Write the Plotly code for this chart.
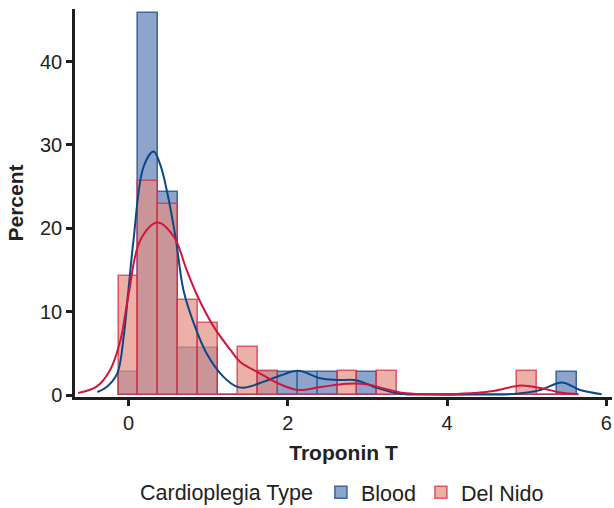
import plotly.graph_objects as go

# ---- data ----
bin_centers = [0.0, 0.25, 0.5, 0.75, 1.0, 1.25, 1.5, 1.75, 2.0, 2.25, 2.5, 2.75,
               3.0, 3.25, 3.5, 3.75, 4.0, 4.25, 4.5, 4.75, 5.0, 5.25, 5.5]
blood_pct = [2.8, 45.8, 24.3, 5.6, 5.6, 0, 0, 2.8, 2.8, 2.8, 2.8, 0,
             2.8, 0, 0, 0, 0, 0, 0, 0, 0, 0, 2.8]
delnido_pct = [14.3, 25.7, 22.9, 11.4, 8.6, 0, 5.7, 2.9, 0, 0, 0, 2.9,
               0, 2.9, 0, 0, 0, 0, 0, 0, 2.9, 0, 0]

blood_kde_x = [-0.39, -0.27, -0.14, -0.06, 0.0, 0.064, 0.19, 0.315, 0.40, 0.48,
               0.59, 0.69, 0.82, 0.98, 1.19, 1.36, 1.47, 1.70, 1.90, 2.13, 2.41,
               2.62, 2.87, 3.12, 3.41, 3.8, 4.3, 4.87, 5.17, 5.44, 5.67, 5.94]
blood_kde_y = [0.36, 1.0, 2.6, 7.0, 12.6, 18.6, 27.4, 29.2, 27.6, 24.6,
               19.0, 12.6, 8.6, 5.0, 2.2, 1.0, 0.9, 1.6, 2.3, 2.9, 2.0,
               1.8, 1.75, 0.85, 0.15, 0.05, 0.05, 0.15, 0.6, 1.5, 0.6, 0.1]

delnido_kde_x = [-0.63, -0.40, -0.23, -0.10, 0.0, 0.15, 0.365, 0.57, 0.73, 0.86,
                 1.07, 1.28, 1.40, 1.65, 1.90, 2.13, 2.41, 2.74, 2.99, 3.24,
                 3.49, 3.87, 4.3, 4.6, 4.92, 5.17, 5.42, 5.65]
delnido_kde_y = [0.24, 1.0, 3.0, 6.6, 12.0, 18.6, 20.7, 19.0, 15.0, 12.0,
                 8.2, 5.4, 4.0, 2.6, 1.3, 0.6, 0.95, 1.35, 1.3, 0.7,
                 0.2, 0.1, 0.2, 0.5, 1.15, 0.85, 0.3, 0.1]

x_ticks = [0, 2, 4, 6]
y_ticks = [0, 10, 20, 30, 40]

FONT = "Liberation Sans, Arial, sans-serif"
AX = "#1f1f1f"

fig = go.Figure()

fig.add_trace(go.Bar(
    x=bin_centers, y=blood_pct, width=0.25, name="Blood",
    marker=dict(color="#8fa4ca", line=dict(color="#3c69a3", width=1.6)),
))
fig.add_trace(go.Bar(
    x=bin_centers, y=delnido_pct, width=0.25, name="Del Nido",
    marker=dict(color="rgba(226,142,131,0.7)",
                line=dict(color="rgba(214,40,58,0.7)", width=1.6)),
))
fig.add_trace(go.Scatter(
    x=blood_kde_x, y=blood_kde_y, mode="lines", showlegend=False,
    line=dict(color="#0b4887", width=2, shape="spline", smoothing=1),
))
fig.add_trace(go.Scatter(
    x=delnido_kde_x, y=delnido_kde_y, mode="lines", showlegend=False,
    line=dict(color="#d3143c", width=2, shape="spline", smoothing=1),
))

fig.update_layout(
    template="none",
    width=614, height=508,
    margin=dict(l=75, r=2, t=9, b=111),
    paper_bgcolor="white", plot_bgcolor="white",
    barmode="overlay", bargap=0,
    font=dict(family=FONT, size=20, color="#222222"),
    xaxis=dict(
        automargin=False,
        range=[-0.671, 6.07], tickvals=x_ticks, ticktext=[str(v) for v in x_ticks],
        showline=True, linewidth=2.5, linecolor=AX, ticks="outside",
        ticklen=6, tickwidth=2.5, tickcolor=AX, showgrid=False, zeroline=False,
        tickfont=dict(size=20),
        title=dict(text="<b>Troponin T</b>", font=dict(size=21), standoff=13),
    ),
    yaxis=dict(
        automargin=False,
        range=[-0.24, 46.3], tickvals=y_ticks, ticktext=[str(v) for v in y_ticks],
        showline=True, linewidth=2.5, linecolor=AX, ticks="outside",
        ticklen=6, tickwidth=2.5, tickcolor=AX, showgrid=False, zeroline=False,
        tickfont=dict(size=20),
        title=dict(text="<b>Percent</b>", font=dict(size=21), standoff=11),
    ),
    legend=dict(
        orientation="h", x=0.5, xanchor="center",
        yref="container", y=0.031, yanchor="middle",
        title=dict(text="Cardioplegia Type", side="left", font=dict(size=21.5)),
        font=dict(size=21.5), bgcolor="rgba(0,0,0,0)",
    ),
)

fig.write_html("out.html", config={"displayModeBar": False},
               post_script="document.body.style.margin='0';document.body.style.overflow='hidden';")
